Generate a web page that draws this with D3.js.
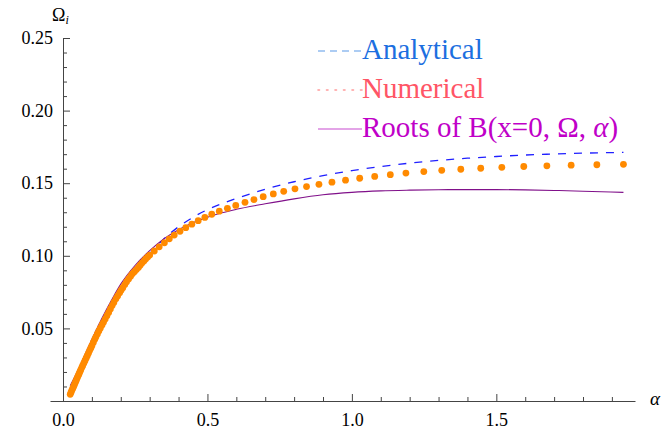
<!DOCTYPE html>
<html>
<head>
<meta charset="utf-8">
<script src="https://cdn.jsdelivr.net/npm/d3@7"></script>
<style>
  body { margin: 0; background: #fff; font-family: "Liberation Serif", serif; }
  .chart { position: relative; width: 664px; height: 432px; }
  .chart svg { position: absolute; left: 0; top: 0; }
  .ylab { position: absolute; left: 52px; top: 6px; font-size: 18px; line-height: 18px;
          font-family: "Liberation Serif", serif; color: #000; }
  .ylab i { font-size: 12px; position: relative; top: 3px; }
  svg text { font-family: "Liberation Serif", serif; }
</style>
</head>
<body>
<div class="chart">
  <svg width="664" height="432" font-family="Liberation Serif">
    <text class="xlab" x="650" y="405" font-size="19" font-style="italic" fill="#000">α</text>
  </svg>
  <div class="ylab">Ω<i>i</i></div>
</div>
<script>
// analytical curve (dashed blue)
const anaAlpha = [0.025,0.05,0.075,0.1,0.125,0.15,0.175,0.2,0.25,0.3,0.35,0.4,0.45,0.5,0.6,0.7,0.8,0.9,1.0,1.1,1.2,1.3,1.4,1.5,1.6,1.7,1.8,1.94];
const anaOmega = [0.005,0.0165,0.028,0.0385,0.049,0.0585,0.068,0.076,0.0898,0.1015,0.1118,0.12,0.1265,0.1318,0.1395,0.1458,0.151,0.1552,0.1587,0.1615,0.1638,0.1657,0.1672,0.1684,0.1694,0.1701,0.1707,0.1712];

// roots of B(x=0, Omega, alpha) (purple line)
const rootAlpha = [0.025,0.05,0.075,0.1,0.125,0.15,0.175,0.2,0.25,0.3,0.35,0.4,0.45,0.5,0.55,0.6,0.7,0.8,0.9,1.0,1.1,1.2,1.3,1.4,1.5,1.6,1.7,1.8,1.94];
const rootOmega = [0.0105,0.0205,0.0315,0.0425,0.053,0.0628,0.072,0.0805,0.0935,0.1035,0.1118,0.118,0.1228,0.1265,0.1296,0.132,0.1358,0.1392,0.142,0.1437,0.1447,0.1452,0.1455,0.1456,0.1456,0.1454,0.145,0.1445,0.1437];

// numerical points (orange dots)
const numAlpha = [0.025,0.028,0.031,0.034,0.037,0.04,0.043,0.046,0.049,0.052,0.055,0.058,0.061,0.065,0.068,0.072,0.076,0.08,0.084,0.088,0.092,0.096,0.1,0.105,0.11,0.114,0.119,0.124,0.129,0.135,0.14,0.146,0.152,0.158,0.164,0.17,0.176,0.183,0.189,0.196,0.201,0.207,0.214,0.22,0.227,0.234,0.24,0.247,0.254,0.261,0.267,0.273,0.28,0.286,0.293,0.3,0.316,0.333,0.351,0.368,0.385,0.405,0.425,0.446,0.468,0.491,0.515,0.541,0.569,0.598,0.63,0.661,0.693,0.728,0.764,0.803,0.843,0.886,0.931,0.978,1.027,1.079,1.133,1.187,1.249,1.311,1.377,1.446,1.519,1.595,1.675,1.759,1.848,1.94];
const numOmega = [0.0046,0.0061,0.0075,0.0088,0.0102,0.0116,0.0129,0.0143,0.0158,0.0172,0.0185,0.0199,0.0212,0.023,0.0243,0.026,0.0278,0.0295,0.0312,0.0329,0.0347,0.0364,0.0381,0.0403,0.0425,0.0442,0.0462,0.0482,0.0501,0.0524,0.0542,0.0564,0.0587,0.061,0.0634,0.0657,0.0679,0.0704,0.0724,0.0746,0.0762,0.078,0.0802,0.0822,0.0841,0.086,0.0876,0.089,0.0905,0.092,0.0935,0.095,0.0964,0.0978,0.0992,0.1005,0.1033,0.1062,0.109,0.1117,0.1143,0.1169,0.1194,0.1218,0.1242,0.1264,0.1286,0.1307,0.1327,0.1347,0.1368,0.1387,0.1407,0.1426,0.1444,0.1461,0.1477,0.1492,0.1507,0.1521,0.1534,0.1547,0.1559,0.157,0.158,0.1589,0.1596,0.1603,0.1609,0.1615,0.162,0.1624,0.1627,0.163];

const xMajor = [0, 0.5, 1.0, 1.5];
const xMinor = [0.1,0.2,0.3,0.4,0.6,0.7,0.8,0.9,1.1,1.2,1.3,1.4,1.6,1.7,1.8,1.9];
const yMajor = [0.05, 0.10, 0.15, 0.20, 0.25];
const yMinor = [0.01,0.02,0.03,0.04,0.06,0.07,0.08,0.09,0.11,0.12,0.13,0.14,0.16,0.17,0.18,0.19,0.21,0.22,0.23,0.24];

const legendNames = ["Analytical", "Numerical", "Roots of B(x=0, \u03A9, "];

let serifFont = "Liberation Serif";

let svg = d3.select(".chart svg");

let x = d3.scaleLinear().domain([-0.045, 1.98]).range([50, 635]);
let y = d3.scaleLinear().domain([0, 0.25]).range([401, 38]);

let axisColor = "#444";

// x axis
let xAxisG = svg.append("g").attr("transform", "translate(0," + y(0) + ")");
xAxisG.call(d3.axisBottom(x).tickValues(xMajor).tickSize(-7).tickSizeOuter(0)
  .tickPadding(12).tickFormat(d3.format(".1f")));
xAxisG.append("g").call(d3.axisBottom(x).tickValues(xMinor).tickSize(-4).tickSizeOuter(0).tickFormat(""))
  .select(".domain").remove();

// y axis
let yAxisG = svg.append("g").attr("transform", "translate(" + x(0) + ",0)");
yAxisG.call(d3.axisLeft(y).tickValues(yMajor).tickSize(-7).tickSizeOuter(0)
  .tickPadding(10).tickFormat(d3.format(".2f")));
yAxisG.append("g").call(d3.axisLeft(y).tickValues(yMinor).tickSize(-4).tickSizeOuter(0).tickFormat(""))
  .select(".domain").remove();

svg.selectAll("g").attr("font-family", serifFont);
svg.selectAll(".domain").attr("stroke", axisColor);
svg.selectAll(".tick line").attr("stroke", axisColor);
svg.selectAll(".tick text")
  .attr("fill", "#000")
  .attr("font-size", 18);

// curves
let lineOf = function (xs, ys) {
  return d3.line()
    .x(function (d) { return x(d); })
    .y(function (d, i) { return y(ys[i]); })
    .curve(d3.curveMonotoneX)(xs);
};

svg.append("path")
  .attr("d", lineOf(anaAlpha, anaOmega))
  .attr("fill", "none")
  .attr("stroke", "#2020ff")
  .attr("stroke-width", 1.3)
  .attr("stroke-dasharray", "8,8");

svg.append("path")
  .attr("d", lineOf(rootAlpha, rootOmega))
  .attr("fill", "none")
  .attr("stroke", "#80108a")
  .attr("stroke-width", 1.1);

svg.selectAll(".num")
  .data(numAlpha)
  .enter().append("circle")
  .attr("class", "num")
  .attr("cx", function (d) { return x(d); })
  .attr("cy", function (d, i) { return y(numOmega[i]); })
  .attr("r", 3.4)
  .attr("fill", "#ff8a00");

// legend
let legendTextColors = ["#1c6fe0", "#ff5566", "#c000c8"];
let legendSwatchColors = ["#5a9ae8", "#ff9a9a", "#c84ad0"];
let legendDash = ["7,5", "1.5,7", null];

let legend = svg.selectAll(".leg")
  .data(legendNames)
  .enter().append("g")
  .attr("class", "leg")
  .attr("transform", function (d, i) { return "translate(318," + (59 + i * 39) + ")"; });

legend.append("line")
  .attr("x1", 0).attr("x2", 44)
  .attr("y1", -8).attr("y2", -8)
  .attr("stroke", function (d, i) { return legendSwatchColors[i]; })
  .attr("stroke-width", function (d, i) { return i == 1 ? 1.6 : 1.2; })
  .attr("stroke-linecap", function (d, i) { return i == 1 ? "round" : "butt"; })
  .attr("stroke-dasharray", function (d, i) { return legendDash[i]; });

legend.append("text")
  .attr("x", 44)
  .attr("font-size", 29)
  .attr("fill", function (d, i) { return legendTextColors[i]; })
  .each(function (d, i) {
    let t = d3.select(this);
    t.append("tspan").text(d);
    if (i == 2) {
      t.append("tspan").attr("font-style", "italic").text("\u03B1");
      t.append("tspan").text(")");
    }
  });
</script>
</body>
</html>
